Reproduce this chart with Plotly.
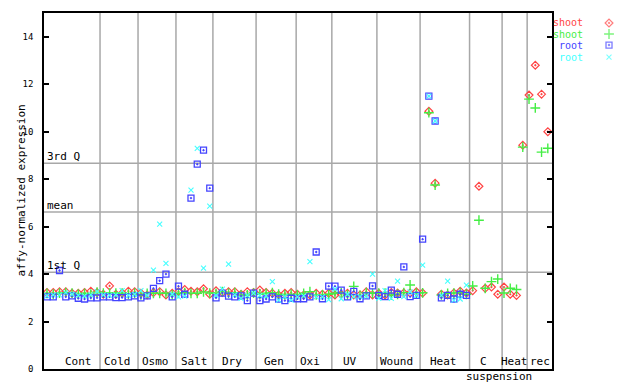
import plotly.graph_objects as go

# ---------------- data ----------------
shoot_a = [3.22, 3.22, 3.26, 3.26, 3.19, 3.19, 3.22, 3.28, 3.22,
           3.15, 3.50, 3.15, 3.19, 3.28, 3.26,
           3.19, 3.12, 3.22, 3.26, 3.12, 3.19,
           3.26, 3.35, 3.28, 3.25, 3.38, 3.15,
           3.30, 3.22, 3.26, 3.26, 3.15, 3.26, 3.22,
           3.33, 3.22, 3.19, 3.12, 3.19, 3.22,
           3.15, 3.12, 3.12, 3.19, 3.15, 3.19,
           3.12, 3.15, 3.19, 3.12, 3.12, 3.26, 3.12,
           3.19, 3.12, 3.22, 3.20, 3.20, 3.20, 3.25,
           3.20, 10.86, 7.83, 3.15, 3.12, 3.20, 3.28, 3.20,
           3.30, 7.70, 3.40, 3.45, 3.15,
           3.45, 3.15, 3.10, 9.43,
           11.54, 12.80, 11.58, 10.00]
shoot_b = [3.19, 3.15, 3.20, 3.22, 3.20, 3.15, 3.19, 3.15, 3.24,
           3.20, 3.20, 3.20, 3.20, 3.15, 3.20,
           3.12, 3.19, 3.19, 3.19, 3.19, 3.12,
           3.19, 3.22, 3.19, 3.19, 3.25, 3.20,
           3.19, 3.26, 3.19, 3.22, 3.12, 3.12, 3.20,
           3.15, 3.19, 3.22, 3.15, 3.12, 3.15,
           3.12, 3.19, 3.26, 3.12, 3.12, 3.15,
           3.19, 3.22, 3.12, 3.48, 3.10, 3.22, 3.19,
           3.20, 3.20, 3.12, 3.15, 3.22, 3.54, 3.20,
           3.21, 10.80, 7.75, 3.12, 3.19, 3.20, 3.22, 3.15,
           3.50, 6.27, 3.40, 3.68, 3.79,
           3.20, 3.40, 3.35, 9.35,
           11.37, 11.00, 9.14, 9.30]
root_a = [3.04, 3.04, 4.15, 3.04, 3.08, 2.98, 2.95, 3.00, 3.00,
          3.04, 3.04, 3.01, 3.01, 3.04, 3.08,
          3.00, 3.08, 3.40, 3.72, 4.00, 3.04,
          3.49, 3.15, 7.20, 8.63, 9.22, 7.62,
          3.00, 3.20, 3.07, 3.04, 3.08, 2.88, 3.20,
          2.88, 2.95, 3.04, 2.95, 2.88, 2.98,
          2.96, 2.96, 3.04, 4.93, 2.96, 3.49,
          3.49, 3.32, 3.04, 3.27, 2.96, 3.08, 3.50,
          3.10, 3.05, 3.32, 3.15, 4.30, 3.05, 3.10,
          5.47, 11.50, 10.45, 3.00, 3.10, 2.95, 3.15, 3.10,
          None, None, None, None, None,
          None, None, None, None,
          None, None, None, None]
root_b = [3.08, 3.12, 3.12, 3.22, 3.15, 3.10, 3.08, 3.12, 3.26,
          3.12, 3.10, 3.12, 3.30, 3.10, 3.15,
          3.30, 3.10, 4.17, 6.10, 4.45, 3.15,
          3.04, 3.07, 7.54, 9.30, 4.25, 6.86,
          3.10, 3.37, 4.42, 3.12, 2.98, 3.10, 3.20,
          3.10, 3.08, 3.68, 2.90, 3.05, 2.90,
          3.04, 3.08, 4.52, 3.04, 3.04, 2.92,
          3.37, 2.96, 3.15, 3.04, 3.05, 3.08, 4.00,
          2.98, 3.30, 2.98, 3.70, 3.05, 3.25, 3.10,
          4.38, 11.50, 10.45, 3.10, 3.70, 2.90, 2.95, 3.53,
          None, None, None, None, None,
          None, None, None, None,
          None, None, None, None]
samples = list(range(len(shoot_a)))

group_names = ["Cont", "Cold", "Osmo", "Salt", "Dry", "Gen", "Oxi", "UV",
               "Wound", "Heat", "C", "Heat", "rec"]
group_label_pos = [5.1, 11.3, 17.3, 23.5, 29.5, 36.3, 42.0, 48.4, 55.9,
                   63.3, 69.8, 74.6, 78.8]
group_bounds = [8.47, 14.54, 20.6, 26.5, 33.4, 39.8, 45.5, 52.7, 59.6,
                67.5, 72.7, 76.7]
stat_names = ["1st Q", "mean", "3rd Q"]
stat_values = [4.08, 6.61, 8.67]
y_ticks = [0, 2, 4, 6, 8, 10, 12, 14]

# ---------------- styles ----------------
FONT = "DejaVu Sans Mono"
RED, GREEN, BLUE, CYAN = "#ff4444", "#44ee44", "#4444ff", "#44ffff"
GRID = "#a8a8a8"
X_RANGE = [-0.48, 80.67]
MAIN_END = 508 / 596

series = [
    ("shoot", shoot_a, RED, "diamond-open-dot", 6, 1.2),
    ("shoot", shoot_b, GREEN, "cross-thin-open", 7, 1.4),
    ("root", root_a, BLUE, "square-open-dot", 6, 1.3),
    ("root", root_b, CYAN, "x-thin-open", 5, 1.1),
]

fig = go.Figure()
for name, vals, col, sym, size, lw in series:
    fig.add_trace(go.Scatter(
        x=samples, y=vals, mode="markers", name=name, showlegend=False,
        marker=dict(symbol=sym, size=size, color=col,
                    line=dict(color=col, width=lw)),
        xaxis="x", yaxis="y"))

# legend markers (own overlay axes in paper-like units)
leg_y = [0.972, 0.941, 0.910, 0.876]
fig.add_trace(go.Scatter(
    x=[0.948] * 4, y=leg_y, mode="markers", showlegend=False,
    marker=dict(symbol=[s[3] for s in series], size=[s[4] for s in series],
                color=[s[2] for s in series],
                line=dict(color=[s[2] for s in series],
                          width=[s[5] for s in series])),
    xaxis="x2", yaxis="y2", cliponaxis=False))

shapes = []
for b in group_bounds:
    shapes.append(dict(type="line", xref="x", yref="paper", x0=b, x1=b,
                       y0=0, y1=1, line=dict(color=GRID, width=1.5),
                       layer="below"))
for v in stat_values:
    shapes.append(dict(type="line", xref="paper", yref="y", x0=0,
                       x1=MAIN_END, y0=v, y1=v,
                       line=dict(color=GRID, width=1.5), layer="below"))

annotations = []
for name, v in zip(stat_names, stat_values):
    annotations.append(dict(x=0, xref="paper", y=v, yref="y", text=name,
                            showarrow=False, xanchor="left", yanchor="bottom",
                            xshift=1, yshift=-2,
                            font=dict(family=FONT, size=11, color="black")))
for name, p in zip(group_names, group_label_pos):
    annotations.append(dict(x=p, xref="x", y=0, yref="y", text=name,
                            showarrow=False, yanchor="bottom", yshift=-1,
                            font=dict(family=FONT, size=11, color="black")))
annotations.append(dict(x=72.2, xref="x", y=0, yref="y", text="suspension",
                        showarrow=False, yanchor="top", yshift=1,
                        font=dict(family=FONT, size=11, color="black")))
annotations.append(dict(x=-32 / 596, xref="paper", y=0.5, yref="paper",
                        text="affy-normalized expression", textangle=-90,
                        showarrow=False,
                        font=dict(family=FONT, size=11, color="black")))
for (name, vals, col, sym, size, lw), yy in zip(series, leg_y):
    annotations.append(dict(x=0.908, xref="paper", y=yy, yref="paper",
                            text=name, showarrow=False, xanchor="right",
                            yanchor="middle",
                            font=dict(family=FONT, size=10, color=col)))

fig.update_layout(
    width=640, height=384,
    margin=dict(l=44, r=0, t=13, b=15),
    paper_bgcolor="white", plot_bgcolor="rgba(0,0,0,0)",
    xaxis=dict(domain=[0, MAIN_END], range=X_RANGE, showgrid=False,
               zeroline=False, showticklabels=False, ticks="",
               showline=True, linecolor="black", linewidth=1.5, mirror=True),
    yaxis=dict(range=[0, 15], tickvals=y_ticks, showgrid=False,
               zeroline=False, ticks="inside", ticklen=5, tickwidth=1.5,
               tickcolor="black", showline=True, linecolor="black",
               linewidth=1.5, mirror="ticks", ticklabelstandoff=7,
               tickfont=dict(family=FONT, size=9, color="black")),
    xaxis2=dict(domain=[0, 1], range=[0, 1], visible=False, anchor="y2"),
    yaxis2=dict(domain=[0, 1], range=[0, 1], visible=False, anchor="x2"),
    shapes=shapes, annotations=annotations, showlegend=False,
)

fig.write_html("out.html",
               config={"displayModeBar": False},
               post_script="document.body.style.margin='0';"
                           "document.body.style.overflow='hidden';")
